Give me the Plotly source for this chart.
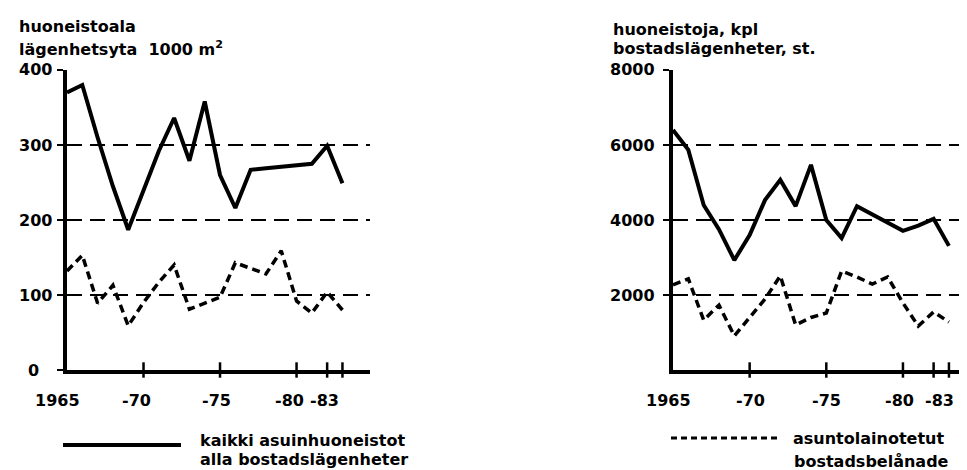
import plotly.graph_objects as go

W, H = 967, 470

years = list(range(1965, 1984))

# Left chart: floor area, 1000 m2
area_all = [370, 380, 310, 245, 187, 240, 292, 336, 279, 358, 260, 216, 267, 269, 271, 273, 275, 299, 249]
area_loan = [132, 153, 89, 113, 59, 90, 117, 140, 81, 89, 97, 143, 135, 128, 159, 92, 76, 104, 80]

# Right chart: dwellings, number
units_all = [6400, 5870, 4400, 3750, 2930, 3600, 4530, 5070, 4370, 5470, 4000, 3520, 4370, 4150, 3930, 3710, 3850, 4030, 3310]
units_loan = [2270, 2430, 1330, 1730, 910, 1390, 1890, 2510, 1200, 1400, 1520, 2640, 2480, 2290, 2480, 1790, 1170, 1550, 1280]

x_ticks = [1970, 1975, 1980, 1982, 1983]
x_label_years = [1965, 1970, 1975, 1980, 1983]
x_label_text = ["1965", "-70", "-75", "-80", "-83"]

left_yticks = [0, 100, 200, 300, 400]
left_ylabels = ["0", "100", "200", "300", "400"]
right_yticks = [2000, 4000, 6000, 8000]
right_ylabels = ["2000", "4000", "6000", "8000"]

FONT = dict(family="DejaVu Sans", size=16, color="black", weight="bold")


def px(x):
    return x / W


def py(y):
    return (H - y) / H


fig = go.Figure()

# Data lines
fig.add_trace(go.Scatter(x=years, y=area_all, mode="lines", line=dict(color="black", width=4),
                         xaxis="x", yaxis="y", showlegend=False, cliponaxis=False))
fig.add_trace(go.Scatter(x=years, y=area_loan, mode="lines", line=dict(color="black", width=3.5, dash="8px,5px"),
                         xaxis="x", yaxis="y", showlegend=False, cliponaxis=False))
fig.add_trace(go.Scatter(x=years, y=units_all, mode="lines", line=dict(color="black", width=4),
                         xaxis="x2", yaxis="y2", showlegend=False, cliponaxis=False))
fig.add_trace(go.Scatter(x=years, y=units_loan, mode="lines", line=dict(color="black", width=3.5, dash="8px,5px"),
                         xaxis="x2", yaxis="y2", showlegend=False, cliponaxis=False))

# Cross tick marks on x axes
for xa, ya in (("x", "y"), ("x2", "y2")):
    fig.add_trace(go.Scatter(x=x_ticks, y=[0] * len(x_ticks), mode="markers",
                             marker=dict(symbol="line-ns", size=11, line=dict(color="black", width=2.5)),
                             xaxis=xa, yaxis=ya, showlegend=False, cliponaxis=False, hoverinfo="skip"))

ydom = [py(362), py(62)]
grid = dict(showgrid=True, gridcolor="black", gridwidth=2, griddash="15px,8px")

fig.update_layout(
    width=W, height=H, margin=dict(l=0, r=0, t=0, b=0),
    paper_bgcolor="white", plot_bgcolor="white",
    xaxis=dict(domain=[px(59), px(362)], range=[1965, 1984.8], showgrid=False, zeroline=False,
               showline=True, linewidth=4, linecolor="black", showticklabels=False, ticks=""),
    yaxis=dict(domain=ydom, range=[0, 400], tickvals=left_yticks, zeroline=False,
               showline=True, linewidth=4, linecolor="black", showticklabels=False,
               ticks="outside", ticklen=6, tickwidth=2, tickcolor="black", **grid),
    xaxis2=dict(domain=[px(665), 1.0], range=[1965, 1984.7], showgrid=False, zeroline=False, anchor="y2",
                showline=True, linewidth=4, linecolor="black", showticklabels=False, ticks=""),
    yaxis2=dict(domain=ydom, range=[0, 8000], tickvals=right_yticks, zeroline=False, anchor="x2",
                showline=True, linewidth=4, linecolor="black", showticklabels=False,
                ticks="outside", ticklen=6, tickwidth=2, tickcolor="black", **grid),
)

ann = []
# Axis titles
ann.append(dict(text="huoneistoala", x=px(9), y=py(18)))
ann.append(dict(text="lägenhetsyta  1000 m<sup>2</sup>", x=px(9), y=py(40)))
ann.append(dict(text="huoneistoja, kpl", x=px(603), y=py(21)))
ann.append(dict(text="bostadslägenheter, st.", x=px(603), y=py(41)))
for a in ann:
    a.update(xref="paper", yref="paper", xanchor="left", yanchor="middle", showarrow=False, font=FONT)

# y tick labels
for v, t in zip(left_yticks, left_ylabels):
    if v == 0:
        ann.append(dict(text=t, x=px(18), xanchor="left", y=v, yref="y", xref="paper",
                        yanchor="middle", showarrow=False, font=FONT))
    else:
        ann.append(dict(text=t, x=px(46), xanchor="right", y=v, yref="y", xref="paper",
                        yanchor="middle", showarrow=False, font=FONT))
for v, t in zip(right_yticks, right_ylabels):
    ann.append(dict(text=t, x=px(649), xanchor="right", y=v, yref="y2", xref="paper",
                    yanchor="middle", showarrow=False, font=FONT))

# x tick labels (slightly offset as in the original print)
left_shift = [-10, -7, -4, -7, -18]
right_shift = [-5, 1, 0, -3, -9]
for yr, t, s in zip(x_label_years, x_label_text, left_shift):
    ann.append(dict(text=t, x=yr, xref="x", y=py(392), yref="paper", xshift=s,
                    xanchor="center", yanchor="middle", showarrow=False, font=FONT))
for yr, t, s in zip(x_label_years, x_label_text, right_shift):
    ann.append(dict(text=t, x=yr, xref="x2", y=py(392), yref="paper", xshift=s,
                    xanchor="center", yanchor="middle", showarrow=False, font=FONT))

# Legend texts
ann.append(dict(text="kaikki asuinhuoneistot", x=px(190), y=py(432), xref="paper", yref="paper",
                xanchor="left", yanchor="middle", showarrow=False, font=FONT))
ann.append(dict(text="alla bostadslägenheter", x=px(190), y=py(451), xref="paper", yref="paper",
                xanchor="left", yanchor="middle", showarrow=False, font=FONT))
ann.append(dict(text="asuntolainotetut", x=px(783), y=py(430), xref="paper", yref="paper",
                xanchor="left", yanchor="middle", showarrow=False, font=FONT))
ann.append(dict(text="bostadsbelånade", x=px(863), y=py(453), xref="paper", yref="paper",
                xanchor="center", yanchor="middle", showarrow=False, font=FONT))

fig.update_layout(annotations=ann)

# Legend samples
fig.add_shape(type="line", xref="paper", yref="paper", x0=px(55), x1=px(173), y0=py(437), y1=py(437),
              line=dict(color="black", width=4))
fig.add_shape(type="line", xref="paper", yref="paper", x0=px(663), x1=px(772), y0=py(430), y1=py(430),
              line=dict(color="black", width=3, dash="6px,4px"))

fig.write_html("out.html")
